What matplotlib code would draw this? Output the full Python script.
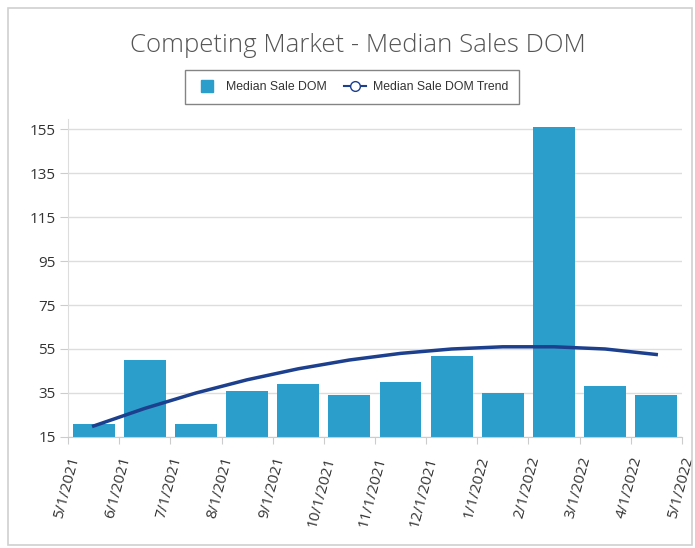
import matplotlib.pyplot as plt
from matplotlib.lines import Line2D
from matplotlib.patches import Rectangle

months = ['5/1/2021', '6/1/2021', '7/1/2021', '8/1/2021', '9/1/2021', '10/1/2021',
          '11/1/2021', '12/1/2021', '1/1/2022', '2/1/2022', '3/1/2022', '4/1/2022', '5/1/2022']
dom = [21, 50, 21, 36, 39, 34, 40, 52, 35, 156, 38, 34]
trend = [20, 28, 35, 41, 46, 50, 53, 55, 56, 56, 55, 52.5]
yticks = [15, 35, 55, 75, 95, 115, 135, 155]

bar_color = '#2B9ECB'
line_color = '#1C3F8E'

fig = plt.figure(figsize=(6.95, 5.48), dpi=100)
# outer frame
fig.patches.append(Rectangle((0.011, 0.005), 0.985, 0.98, transform=fig.transFigure,
                             fill=False, edgecolor='#d0d0d0', linewidth=1.2))

ax = fig.add_axes([0.098, 0.2026, 0.883, 0.58])
x = [i + 0.5 for i in range(len(dom))]
ax.bar(x, dom, width=0.82, bottom=0, color=bar_color, zorder=2)
ax.plot(x, trend, color=line_color, linewidth=2.5, zorder=3)

ax.set_xlim(0, len(dom))
ax.set_ylim(15, 159.5)
ax.set_yticks(yticks)
ax.set_xticks(range(len(months)))
ax.set_xticklabels(months, rotation=75, ha='right', va='top', rotation_mode='anchor')
ax.grid(axis='y', color='#dddddd', linewidth=1, zorder=0)
for s in ['top', 'right']:
    ax.spines[s].set_visible(False)
ax.spines['left'].set_color('#dddddd')
ax.spines['bottom'].set_color('#cccccc')
ax.tick_params(axis='y', labelsize=11, colors='#cccccc', labelcolor='#333333', length=6, pad=3)
ax.tick_params(axis='x', labelsize=11, colors='#cccccc', labelcolor='#333333', length=5, pad=8)
for lab in ax.get_xticklabels() + ax.get_yticklabels():
    lab.set_fontfamily('Open Sans')

fig.text(0.515, 0.917, 'Competing Market - Median Sales DOM', ha='center', va='center',
         fontsize=18.5, color='#555555', fontfamily='Open Sans', fontweight='light')

handles = [Line2D([0], [0], linestyle='none', marker='s', markersize=9,
                  markerfacecolor=bar_color, markeredgecolor=bar_color),
           Line2D([0], [0], color=line_color, linewidth=1.5, marker='o',
                  markerfacecolor='white', markeredgecolor=line_color, markersize=7)]
leg = fig.legend(handles, ['Median Sale DOM', 'Median Sale DOM Trend'], loc='center',
                 bbox_to_anchor=(0.507, 0.841), ncol=2, fontsize=8.8, frameon=True,
                 fancybox=False, edgecolor='#666666', handlelength=1.8, columnspacing=1.4,
                 handletextpad=0.6, borderpad=0.9)
leg.get_frame().set_linewidth(1)
for t in leg.get_texts():
    t.set_color('#333333')
    t.set_fontfamily('Liberation Sans')

fig.savefig('out.png', dpi=100)
